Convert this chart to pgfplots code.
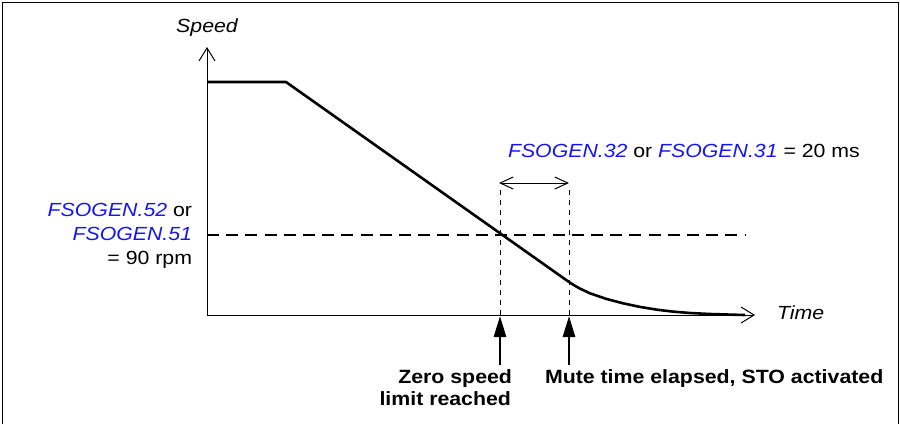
\documentclass[border=0pt]{standalone}
\usepackage{fontspec}
\setmainfont{Liberation Sans}
\newfontfamily\lab[FakeStretch=1.12]{Liberation Sans}
\newfontfamily\labb[FakeStretch=1.11]{Liberation Sans}
\usepackage{pgfplots}
\pgfplotsset{compat=1.18}
\usetikzlibrary{arrows.meta}
\definecolor{fblue}{RGB}{20,20,245}
\tikzset{lbl/.style={inner sep=0pt, outer sep=0pt, font=\lab\fontsize{9.5}{12}\selectfont},
         blbl/.style={inner sep=0pt, outer sep=0pt, font=\labb\fontsize{9.6}{12}\selectfont\bfseries}}
\begin{document}
\begin{tikzpicture}
\begin{axis}[scale only axis, width=450pt, height=212pt,
  xmin=0, xmax=900, ymin=0, ymax=424, y dir=reverse,
  hide axis, clip=false]
\path (axis cs:0,0) rectangle (axis cs:900,424);
% frame
\draw[line width=0.6pt] (axis cs:2.5,424) -- (axis cs:2.5,2.5) -- (axis cs:898.5,2.5) -- (axis cs:898.5,424);
% axes
\draw[line width=0.5pt, -{Straight Barb[length=6.5pt,width=8pt]}] (axis cs:207,315.5) -- (axis cs:207,47);
\draw[line width=0.5pt, -{Straight Barb[length=6.5pt,width=8pt]}] (axis cs:207,315) -- (axis cs:755,315);
% threshold
\addplot[line width=1.3pt, dash pattern=on 6pt off 3.6pt] coordinates {(207,235) (746,235)};
% dotted verticals
\addplot[line width=0.5pt, dash pattern=on 2.5pt off 2.5pt] coordinates {(500,190) (500,315)};
\addplot[line width=0.5pt, dash pattern=on 2.5pt off 2.5pt] coordinates {(569,190) (569,315)};
% speed curve
\addplot[line width=1.3pt, black, line join=round] coordinates {
 (207,82) (286,82) (569,282) (575,285.8) (580,288.6) (590,293.3) (606,298.8)
 (623,303.3) (640,306.9) (657,309.7) (673,311.6) (690,313) (710,314) (730,314.6) (745,315)};
% duration arrow
\draw[line width=0.5pt, {Straight Barb[length=6.5pt,width=6pt]}-{Straight Barb[length=6.5pt,width=6pt]}] (axis cs:499,183) -- (axis cs:569,183);
% event arrows
\draw[line width=1.3pt, -{Triangle[length=10.5pt,width=6pt]}] (axis cs:500,365) -- (axis cs:500,316);
\draw[line width=1.3pt, -{Triangle[length=10.5pt,width=6pt]}] (axis cs:569,365) -- (axis cs:569,316);
% labels
\node[lbl, anchor=base] at (axis cs:207,32) {\itshape Speed};
\node[lbl, anchor=base west] at (axis cs:777,319) {\itshape Time};
\node[lbl, anchor=base west] at (axis cs:508,157) {\textcolor{fblue}{\itshape FSOGEN.32} or \textcolor{fblue}{\itshape FSOGEN.31} = 20 ms};
\node[lbl, anchor=base east] at (axis cs:192,216) {\textcolor{fblue}{\itshape FSOGEN.52} or};
\node[lbl, anchor=base east] at (axis cs:192,240) {\textcolor{fblue}{\itshape FSOGEN.51}};
\node[lbl, anchor=base east] at (axis cs:192,264) {= 90 rpm};
\node[blbl, anchor=base east] at (axis cs:512,383) {Zero speed};
\node[blbl, anchor=base east] at (axis cs:511,405) {limit reached};
\node[blbl, anchor=base west] at (axis cs:545,383) {Mute time elapsed, STO activated};
\end{axis}
\end{tikzpicture}
\end{document}
